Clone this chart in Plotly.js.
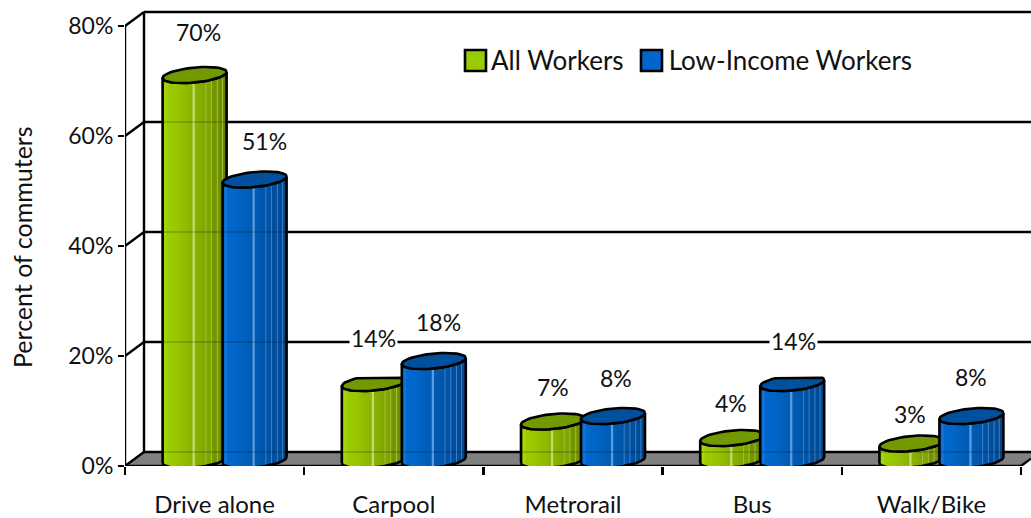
<!DOCTYPE html>
<html><head><meta charset="utf-8">
<script src="https://cdn.plot.ly/plotly-3.0.0.min.js"></script>
<style>html,body{margin:0;padding:0;background:#fff}</style></head>
<body><div id="chart" style="width:1031px;height:518px"></div>
<script>
const categories = ["Drive alone","Carpool","Metrorail","Bus","Walk/Bike"];
const allWorkers = [70,14,7,4,3];
const lowIncome = [51,18,8,14,8];
const yTicks = [0,20,40,60,80];
const seriesNames = ["All Workers","Low-Income Workers"];
const labelNudges = [[[4,43],[10,39]],[[0,45],[5,39]],[[0,35],[3,38]],[[-1,35],[1,42]],[[-1,30],[0,39]]];

const FONT = "Lato, 'Noto Sans', sans-serif";
const pxPerCat = 179.2, pxPerUnit = 5.5;
const xMax = 4.5 + 10/pxPerCat, yMax = 466/pxPerUnit;
const dX = 19/pxPerCat, dY = 14/pxPerUnit;
const midX = dX/2 + 0.5/pxPerCat, midY = (dY/2) - 1/pxPerUnit;
const halfW = 32/pxPerCat, sep = 30/pxPerCat;
const tiltY = 3/pxPerUnit, radY = 7.5/pxPerUnit;
const clipAt = 16.05; // the reference's flat-cut tops of the 14% cylinders

const stripes = (c)=>[[0,c[0]],[0.05,c[1]],[0.08,c[2]],[0.2,c[3]],[0.46,c[4]],[0.475,c[5]],[0.495,c[5]],[0.51,c[4]],
  [0.66,c[6]],[0.675,c[7]],[0.69,c[6]],[0.75,c[6]],[0.765,c[7]],[0.78,c[8]],[0.84,c[8]],[0.855,c[7]],[0.87,c[8]],[0.92,c[9]],[0.935,c[7]],[0.95,c[9]],[1,c[10]]];
const shades = [
 {body:stripes(["#8fbf00","#a8d810","#9ccc00","#99c800","#8ab300","#c0dc70","#80a600","#a4bf40","#729600","#6a8a00","#5c7800"]), top:"#739900", key:"#99cc00"},
 {body:stripes(["#0059b3","#1577dd","#0068cc","#0066c8","#005cb5","#5a9ce0","#0054a8","#3f80c4","#004e9c","#004a93","#003f7f"]), top:"#00509e", key:"#0066cc"}
];

function ellipsePts(cx, cy, from, to, n){
  const xs=[], ys=[];
  for(let k=0;k<=n;k++){
    const t = from + (to-from)*k/n;
    xs.push(cx + halfW*Math.cos(t));
    ys.push(cy + tiltY*Math.cos(t) + radY*Math.sin(t));
  }
  return [xs,ys];
}
const centre = (i,s)=> i+midX+(s?sep:-sep);
const traces = [];
[allWorkers, lowIncome].forEach((vals,s)=>{
  traces.push({type:"bar", x:categories.map((c,i)=>centre(i,s)), y:vals, base:midY,
    width:2*halfW, marker:{color:shades[s].key}, showlegend:false, hoverinfo:"skip"});
});
categories.forEach((c,i)=>{
  [allWorkers, lowIncome].forEach((vals,s)=>{
    const v = vals[i], cx = centre(i,s), top = v+midY;
    const [lx,ly] = ellipsePts(cx, midY, Math.PI, 2*Math.PI, 28);   // base front arc, left to right
    const [fx,fy] = ellipsePts(cx, top, 2*Math.PI, Math.PI, 28);    // top front arc, right to left
    traces.push({type:"scatter", mode:"lines", x:lx.concat(fx,[lx[0]]), y:ly.concat(fy,[ly[0]]),
      fill:"toself", fillgradient:{type:"horizontal", colorscale:shades[s].body},
      line:{color:"#000",width:2.6}, showlegend:false, hoverinfo:"skip"});
    const [ex,ey0] = ellipsePts(cx, top, 0, 2*Math.PI, 56);
    const ey = v===14 ? ey0.map(y=>Math.min(y,clipAt)) : ey0;
    traces.push({type:"scatter", mode:"lines", x:ex, y:ey, fill:"toself", fillcolor:shades[s].top,
      line:{color:"#000",width:2.6}, showlegend:false, hoverinfo:"skip"});
  });
});
seriesNames.forEach((n,s)=>{
  traces.push({type:"scatter", mode:"markers", x:[-5], y:[-5], name:n,
    marker:{symbol:"square", size:8, color:shades[s].key, line:{width:0}}, hoverinfo:"skip"});
});

const ink = {color:"#000", width:2.4};
const shapes = [
  {type:"path", layer:"below", xref:"x", yref:"y",
   path:`M-0.5,0 L${-0.5+dX},${dY} L${xMax},${dY} L${xMax},${(xMax-4.5)/dX*dY} L4.5,0 Z`, fillcolor:"#808080", line:{width:0}},
  {type:"line", layer:"below", xref:"x", yref:"y", x0:-0.5+dX, x1:-0.5+dX, y0:dY, y1:80+dY, line:ink},
  {type:"line", layer:"below", xref:"x", yref:"y", x0:-0.5, x1:-0.5, y0:0, y1:80, line:ink},
  {type:"line", layer:"below", xref:"x", yref:"y", x0:-0.5, x1:4.5, y0:0, y1:0, line:ink},
  {type:"line", layer:"below", xref:"x", yref:"y", x0:4.5, x1:xMax, y0:0, y1:(xMax-4.5)/dX*dY, line:ink},
];
yTicks.forEach(v=>{
  shapes.push({type:"line", layer:"below", xref:"x", yref:"y", x0:-0.5, x1:-0.5+dX, y0:v, y1:v+dY, line:ink});
  shapes.push({type:"line", layer:"below", xref:"x", yref:"y", x0:-0.5+dX, x1:xMax, y0:v+dY, y1:v+dY, line:ink});
  // faint trace of the grid showing through the cylinders
  shapes.push({type:"line", layer:"above", xref:"x", yref:"y", x0:-0.5+dX, x1:xMax, y0:v+dY, y1:v+dY, line:{color:"rgba(0,0,0,0.16)",width:2.2}});
});
// legend keys
[[465,486],[641,662]].forEach((b,s)=>{
  shapes.push({type:"rect", layer:"above", xref:"paper", yref:"paper", x0:(b[0]-125)/906, x1:(b[1]-125)/906, y0:1-71/466, y1:1-50/466,
    fillcolor:shades[s].key, line:{color:"#000",width:2.6}});
});

const annotations = [{xref:"paper", yref:"paper", x:(22-125)/906, y:1-247/466, text:"Percent of commuters", textangle:-90,
  showarrow:false, xanchor:"center", yanchor:"middle", font:{family:FONT,size:25,color:"#111"}}];
categories.forEach((c,i)=>{
  [allWorkers, lowIncome].forEach((vals,s)=>{
    const v = vals[i], n = labelNudges[i][s];
    annotations.push({x:centre(i,s), y:v+midY, xref:"x", yref:"y", text:v+"%", showarrow:false,
      xshift:n[0], yshift:n[1], font:{family:FONT,size:23,color:"#111"},
      bgcolor:(v===14)?"#fff":"rgba(0,0,0,0)", borderpad:1});
  });
});

const layout = {
  width:1031, height:518, paper_bgcolor:"#fff", plot_bgcolor:"#fff",
  margin:{l:125,r:0,t:0,b:52}, barmode:"overlay", showlegend:true,
  font:{family:FONT,size:23,color:"#111"},
  xaxis:{range:[-0.5,xMax], tickmode:"array", tickvals:categories.map((c,i)=>i), ticktext:categories,
    showgrid:false, zeroline:false, showline:false, ticks:"outside", ticklen:17, tickcolor:"rgba(0,0,0,0)",
    minor:{tickmode:"array", tickvals:[0,1,2,3,4,5].map(k=>k-0.5), ticks:"outside", ticklen:8, tickwidth:2.4, tickcolor:"#000", showgrid:false},
    tickfont:{family:FONT,size:24,color:"#111"}},
  yaxis:{range:[0,yMax], tickmode:"array", tickvals:yTicks, ticktext:yTicks.map(v=>v+"%"),
    showgrid:false, zeroline:false, showline:false, ticks:"outside", ticklen:6, tickwidth:2.4, tickcolor:"#000",
    tickfont:{family:FONT,size:23,color:"#111"}},
  legend:{orientation:"h", x:(451-125)/906, y:1-(36/466), xanchor:"left", yanchor:"top", bgcolor:"rgba(0,0,0,0)",
    font:{family:FONT,size:26,color:"#111"}, itemsizing:"trace", traceorder:"normal", itemclick:false, itemdoubleclick:false},
  shapes, annotations
};
Plotly.newPlot("chart", traces, layout, {displayModeBar:false, staticPlot:true});
</script></body></html>
